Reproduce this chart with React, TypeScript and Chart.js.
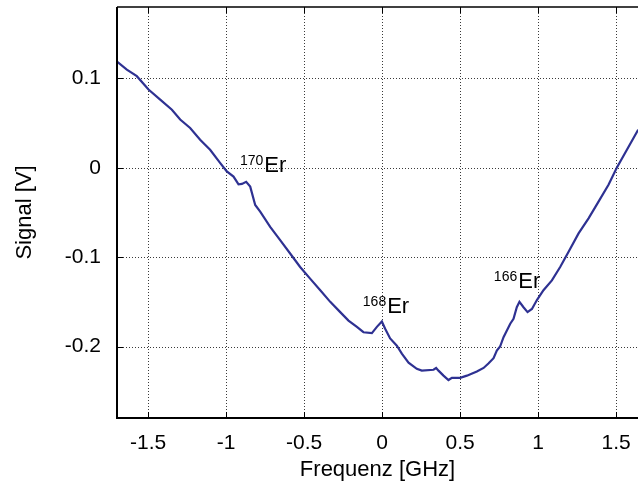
import React, { useEffect, useRef } from "react";
import { Chart, registerables } from "chart.js";

Chart.register(...registerables);

const freqGHz = [
  -1.70, -1.637, -1.573, -1.498, -1.423, -1.348, -1.295, -1.231, -1.167, -1.103,
  -1.038, -0.996, -0.953, -0.921, -0.899, -0.872, -0.846, -0.814, -0.782, -0.718,
  -0.654, -0.590, -0.526, -0.462, -0.397, -0.333, -0.269, -0.216, -0.162, -0.120,
  -0.066, -0.034, -0.002, 0.019, 0.051, 0.094, 0.126, 0.169, 0.222, 0.254,
  0.329, 0.346, 0.361, 0.393, 0.425, 0.447, 0.500, 0.543, 0.607, 0.650,
  0.681, 0.714, 0.735, 0.756, 0.778, 0.821, 0.842, 0.863, 0.880, 0.906,
  0.932, 0.960, 0.992, 1.034, 1.088, 1.141, 1.195, 1.259, 1.323, 1.387,
  1.451, 1.504, 1.568, 1.641,
];

const signalV = [
  0.119, 0.110, 0.1026, 0.0876, 0.0764, 0.065, 0.054, 0.0446, 0.0315, 0.0202,
  0.0053, -0.004, -0.0098, -0.0184, -0.018, -0.0157, -0.021, -0.0416, -0.049, -0.066,
  -0.081, -0.0959, -0.111, -0.124, -0.137, -0.150, -0.1615, -0.171, -0.178, -0.184,
  -0.185, -0.178, -0.172, -0.180, -0.191, -0.199, -0.208, -0.218, -0.225, -0.227,
  -0.226, -0.224, -0.227, -0.2326, -0.2375, -0.235, -0.235, -0.2326, -0.228, -0.224,
  -0.219, -0.213, -0.2045, -0.200, -0.1895, -0.1745, -0.169, -0.156, -0.150, -0.156,
  -0.1615, -0.158, -0.148, -0.137, -0.126, -0.111, -0.094, -0.0734, -0.0565, -0.0378,
  -0.019, 0.0, 0.020, 0.0427,
];

const xTicks = [-1.5, -1, -0.5, 0, 0.5, 1, 1.5];
const yTicks = [-0.2, -0.1, 0, 0.1];

const isotopeMass = ["170", "168", "166"];
const isotopeX = [-0.756, 0.032, 0.872];
const isotopeY = [-0.0045, -0.162, -0.135];

const FONT = "'Liberation Sans', Arial, Helvetica, sans-serif";

export default function App() {
  const ref = useRef<HTMLCanvasElement | null>(null);

  useEffect(() => {
    if (!ref.current) return;
    const gridPlugin = {
      id: "dottedGrid",
      beforeDatasetsDraw(chart: any) {
        const { ctx, chartArea, scales } = chart;
        const xs = scales.x;
        const ys = scales.y;
        ctx.save();
        ctx.strokeStyle = "#3a3a3a";
        ctx.lineWidth = 1;
        ctx.setLineDash([1, 2]);
        xTicks.forEach((v) => {
          const px = Math.round(xs.getPixelForValue(v)) + 0.5;
          ctx.beginPath();
          ctx.moveTo(px, chartArea.top);
          ctx.lineTo(px, chartArea.bottom);
          ctx.stroke();
        });
        yTicks.forEach((v) => {
          const py = Math.round(ys.getPixelForValue(v)) + 0.5;
          ctx.beginPath();
          ctx.moveTo(chartArea.left, py);
          ctx.lineTo(chartArea.right, py);
          ctx.stroke();
        });
        ctx.restore();
      },
    };
    const decor = {
      id: "decor",
      afterDatasetsDraw(chart: any) {
        const { ctx, chartArea, scales } = chart;
        const xs = scales.x;
        const ys = scales.y;
        ctx.save();
        ctx.setLineDash([]);
        ctx.strokeStyle = "#000";
        ctx.lineWidth = 2;
        ctx.beginPath();
        ctx.moveTo(chartArea.left, chartArea.top);
        ctx.lineTo(chartArea.left, chartArea.bottom);
        ctx.lineTo(chartArea.right, chartArea.bottom);
        ctx.stroke();
        ctx.lineWidth = 1.5;
        ctx.beginPath();
        ctx.moveTo(chartArea.left, chartArea.top);
        ctx.lineTo(chartArea.right, chartArea.top);
        ctx.stroke();
        ctx.lineWidth = 1;
        xTicks.forEach((v) => {
          const px = Math.round(xs.getPixelForValue(v)) + 0.5;
          ctx.beginPath();
          ctx.moveTo(px, chartArea.bottom);
          ctx.lineTo(px, chartArea.bottom - 6);
          ctx.moveTo(px, chartArea.top);
          ctx.lineTo(px, chartArea.top + 6);
          ctx.stroke();
        });
        yTicks.forEach((v) => {
          const py = Math.round(ys.getPixelForValue(v)) + 0.5;
          ctx.beginPath();
          ctx.moveTo(chartArea.left, py);
          ctx.lineTo(chartArea.left + 6, py);
          ctx.stroke();
        });
        ctx.fillStyle = "#000";
        ctx.textBaseline = "alphabetic";
        isotopeMass.forEach((m, i) => {
          const px = xs.getPixelForValue(isotopeX[i]);
          const py = ys.getPixelForValue(isotopeY[i]);
          ctx.font = `22px ${FONT}`;
          ctx.textAlign = "left";
          ctx.fillText("Er", px, py);
          ctx.font = `14px ${FONT}`;
          ctx.textAlign = "right";
          ctx.fillText(m, px - 1, py - 7);
        });
        ctx.restore();
      },
    };

    const chart = new Chart(ref.current, {
      type: "line",
      data: {
        datasets: [
          {
            data: freqGHz.map((f, i) => ({ x: f, y: signalV[i] })),
            borderColor: "#2e3192",
            borderWidth: 2.2,
            pointRadius: 0,
            tension: 0,
            fill: false,
          },
        ],
      },
      options: {
        responsive: false,
        animation: false,
        layout: { padding: { top: 7, right: 0, left: 0, bottom: 0 } },
        plugins: { legend: { display: false }, tooltip: { enabled: false } },
        scales: {
          x: {
            type: "linear",
            min: -1.7,
            max: 1.64,
            afterBuildTicks: (s: any) => {
              s.ticks = xTicks.map((v) => ({ value: v }));
            },
            afterFit: (s: any) => {
              s.height = 71;
              s.paddingLeft = 0;
              s.paddingRight = 0;
            },
            grid: { display: false, drawTicks: false } as any,
            border: { display: false } as any,
            ticks: {
              padding: 13,
              color: "#000",
              font: { family: FONT, size: 21 },
              maxRotation: 0,
              autoSkip: false,
              callback: (v: any) => String(v),
            },
            title: {
              display: true,
              text: "Frequenz [GHz]",
              color: "#000",
              font: { family: FONT, size: 22 },
              padding: { top: 0, bottom: 6 },
            },
          },
          y: {
            type: "linear",
            min: -0.28,
            max: 0.18,
            afterBuildTicks: (s: any) => {
              s.ticks = yTicks.map((v) => ({ value: v }));
            },
            afterFit: (s: any) => {
              s.width = 117;
              s.paddingTop = 0;
              s.paddingBottom = 0;
            },
            grid: { display: false, drawTicks: false } as any,
            border: { display: false } as any,
            ticks: {
              padding: 16,
              color: "#000",
              font: { family: FONT, size: 21 },
              autoSkip: false,
              callback: (v: any) => String(Math.round(v * 10) / 10),
            },
            title: {
              display: true,
              text: "Signal [V]",
              color: "#000",
              font: { family: FONT, size: 22 },
              padding: { top: 12, bottom: 0 },
            },
          },
        },
      },
      plugins: [gridPlugin, decor],
    });
    return () => chart.destroy();
  }, []);

  return (
    <div style={{ position: "fixed", left: 0, top: 0, width: 638, height: 489, background: "#fff" }}>
      <canvas ref={ref} width={638} height={489} style={{ display: "block" }} />
    </div>
  );
}
